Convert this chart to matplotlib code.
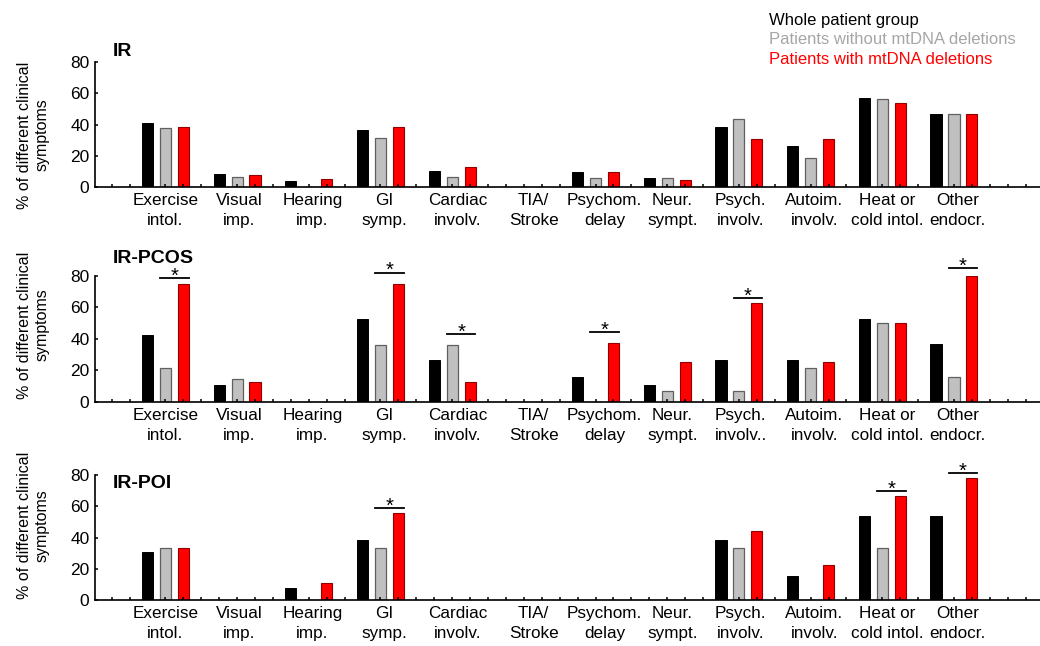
import matplotlib.pyplot as plt

plt.rcParams['font.family'] = ['Liberation Sans', 'DejaVu Sans']

# symptom groups (x labels)
categories = ['Exercise\nintol.', 'Visual\nimp.', 'Hearing\nimp.', 'GI\nsymp.', 'Cardiac\ninvolv.',
              'TIA/\nStroke', 'Psychom.\ndelay', 'Neur.\nsympt.', 'Psych.\ninvolv.', 'Autoim.\ninvolv.',
              'Heat or\ncold intol.', 'Other\nendocr.']
categories_pcos = categories[:8] + ['Psych.\ninvolv..'] + categories[9:]

# % of patients per symptom: whole group / without deletions / with deletions
ir_whole = [41, 8.3, 4, 36.7, 10.2, 0, 9.8, 5.8, 38.4, 26.2, 56.9, 46.7]
ir_without = [37.6, 6.2, 0, 31.2, 6.2, 0, 5.5, 5.8, 43.7, 18.6, 56.1, 46.5]
ir_with = [38.2, 7.6, 5.1, 38.2, 12.7, 0, 9.8, 4.5, 30.7, 30.7, 53.5, 46.7]

pcos_whole = [42.1, 10.5, 0, 52.6, 26.3, 0, 15.8, 10.5, 26.3, 26.3, 52.6, 36.8]
pcos_without = [21.4, 14.3, 0, 35.7, 35.7, 0, 0, 7.1, 7.1, 21.4, 50, 15.4]
pcos_with = [75, 12.5, 0, 75, 12.5, 0, 37.5, 25, 62.5, 25, 50, 80]

poi_whole = [30.8, 0, 7.7, 38.5, 0, 0, 0, 0, 38.5, 15.4, 53.8, 53.8]
poi_without = [33.3, 0, 0, 33.3, 0, 0, 0, 0, 33.3, 0, 33.3, 0]
poi_with = [33.3, 0, 11.1, 55.6, 0, 0, 0, 0, 44.4, 22.2, 66.7, 77.8]

# groups with a significant difference (without vs with deletions) and bracket levels
ir_sig = []
ir_sig_y = []
pcos_sig = [0, 3, 4, 6, 8, 11]
pcos_sig_y = [78.5, 82, 43, 44, 66, 85]
poi_sig = [3, 10, 11]
poi_sig_y = [59, 69.5, 81]

titles = ['IR', 'IR-PCOS', 'IR-POI']
legend_names = ['Whole patient group', 'Patients without mtDNA deletions', 'Patients with mtDNA deletions']

# small nudges of the group labels to the right of the grey bar
label_shift = [0, 0.1, 0.2, 0.2, 0.3, 0.55, 0.5, 0.3, 0.1, 0.2, 0.3, 0.2]

fig = plt.figure(figsize=(10.4, 6.46), dpi=100)

# [left, bottom, width, height], title baseline (axes coords), ylabel centre (fig coords)
panels = [
    ([0.0913, 0.7105, 0.9087, 0.1935], 1.05, 0.791, categories, ir_whole, ir_without, ir_with, ir_sig, ir_sig_y),
    ([0.0913, 0.3782, 0.9087, 0.1950], 1.10, 0.497, categories_pcos, pcos_whole, pcos_without, pcos_with,
     pcos_sig, pcos_sig_y),
    ([0.0913, 0.0712, 0.9087, 0.1935], 0.90, 0.186, categories, poi_whole, poi_without, poi_with, poi_sig, poi_sig_y),
]

w = 0.62
for p in range(3):
    rect, ty, ly, labels, whole, without, with_, sig, sig_y = panels[p]
    ax = fig.add_axes(rect)
    xb = [2 + 4 * i for i in range(12)]
    xg = [3 + 4 * i for i in range(12)]
    xr = [4 + 4 * i for i in range(12)]
    ax.bar(xb, whole, w, color='black', edgecolor='black', linewidth=0.7)
    ax.bar(xg, without, w, color='#c0c0c0', edgecolor='#606060', linewidth=0.9)
    ax.bar(xr, with_, w, color='#ff0000', edgecolor='#900000', linewidth=0.8)

    for i, yl in zip(sig, sig_y):
        xm = xg[i] + 0.5
        ax.plot([xm - 0.8, xm + 0.8], [yl, yl], color='black', lw=1.3, clip_on=False)
        ax.annotate('*', xy=(xm, yl), xytext=(0, -2.6), textcoords='offset points',
                    ha='center', va='baseline', fontsize=14.5, annotation_clip=False)

    ax.set_xlim(-0.93, 51.8)
    ax.set_ylim(0, 80)
    ax.set_yticks([0, 20, 40, 60, 80])
    ax.set_xticks(range(0, 52))
    ax.set_xticklabels([])
    ax.tick_params(axis='both', direction='in', length=2.5, width=1.1, labelsize=12.5, pad=4)
    ax.spines['top'].set_visible(False)
    ax.spines['right'].set_visible(False)
    ax.spines['left'].set_linewidth(1.2)
    ax.spines['bottom'].set_linewidth(1.2)

    for i in range(12):
        ax.text(xg[i] + label_shift[i], -0.05, labels[i], transform=ax.get_xaxis_transform(),
                ha='center', va='top', fontsize=12.3, linespacing=1.38)

    ax.text(0.019, ty, titles[p], transform=ax.transAxes, fontsize=14, fontweight='bold', va='baseline')

    fig.text(0.032, ly, '% of different clinical\nsymptoms', rotation=90,
             ha='center', va='center', fontsize=11.5, linespacing=1.15)

# colour key in the top right corner
fig.text(0.739, 0.969, legend_names[0], color='black', fontsize=12, va='center')
fig.text(0.739, 0.939, legend_names[1], color='#a6a6a6', fontsize=12, va='center')
fig.text(0.739, 0.908, legend_names[2], color='#ff0000', fontsize=12, va='center')

plt.savefig('out.png', dpi=100)
